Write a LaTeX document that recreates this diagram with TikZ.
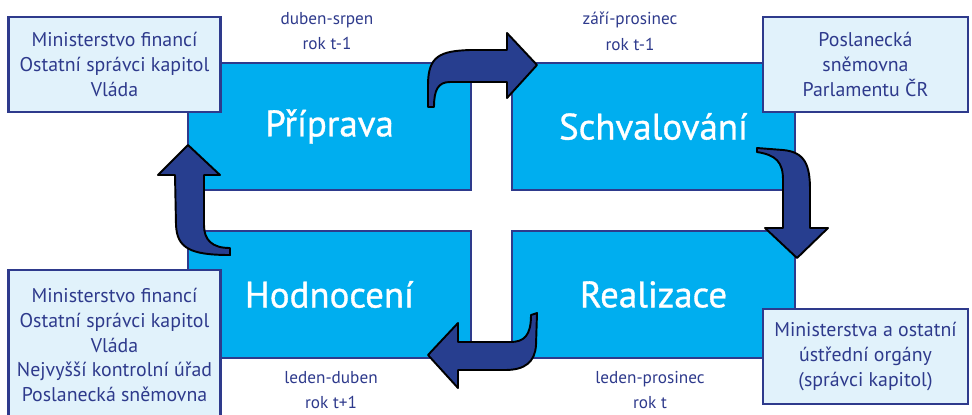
\documentclass[tikz,border=0pt]{standalone}
\usepackage{fontspec}
\setmainfont{PT Sans}
\newfontfamily\phasefont[FakeBold=0.9]{PT Sans}
\definecolor{cyanfill}{HTML}{00AEEF}
\definecolor{navy}{HTML}{2E3A8C}
\definecolor{paleblue}{HTML}{E1F2FB}
\definecolor{arrowblue}{HTML}{273E8F}
\begin{document}
\begin{tikzpicture}[x=0.02cm,y=-0.02cm,
    phase/.style={draw=navy,line width=1.1pt,fill=cyanfill,minimum width=5.66cm,minimum height=2.54cm,text=white,font=\phasefont\fontsize{21}{24}\selectfont},
    actors/.style={draw=navy,line width=1.4pt,fill=paleblue,text=navy,align=center,inner sep=0pt,font=\fontsize{11.3}{14.2}\selectfont},
    period/.style={text=navy,align=center,font=\fontsize{9.8}{14.7}\selectfont},
    turn/.style={draw=black,line width=1.1pt,fill=arrowblue,line join=round}]
    \clip (0,0) rectangle (972,414);
    \fill[white] (0,0) rectangle (972,414);

    \node[phase] (prip) at (329.5,126.5) {Příprava};
    \node[phase] (schv) at (653.5,126.5) {Schvalování};
    \node[phase] (hodn) at (329.5,294.5) {Hodnocení};
    \node[phase] (real) at (653.5,294.5) {Realizace};

    \node[actors,minimum width=4.24cm,minimum height=1.9cm] (mf) at (114.5,64.5) {Ministerstvo financí\\Ostatní správci kapitol\\Vláda};
    \node[actors,minimum width=4.1cm,minimum height=1.9cm] (ps) at (865.5,64.5) {Poslanecká\\sněmovna\\Parlamentu ČR};
    \node[actors,minimum width=4.24cm,minimum height=3cm] (kon) at (114.5,345) {Ministerstvo financí\\Ostatní správci kapitol\\Vláda\\Nejvyšší kontrolní úřad\\Poslanecká sněmovna};
    \node[actors,minimum width=4.1cm,minimum height=1.9cm] (uo) at (865.5,356.5) {Ministerstva a ostatní\\ústřední orgány\\(správci kapitol)};

    \node[period] (t1) at (327,31) {duben-srpen\\rok t-1};
    \node[period] (t2) at (630,31) {září-prosinec\\rok t-1};
    \node[period] (t3) at (331,390) {leden-duben\\rok t+1};
    \node[period] (t4) at (650,390) {leden-prosinec\\rok t};

    \draw[turn] (428,107) -- (428,85) .. controls (428,56) and (440,51) .. (470,50) -- (507,50) -- (507,33) -- (537,65) -- (507,98) -- (507,82) -- (450,82) .. controls (438,82) and (434,90) .. (434,107) -- cycle;
    \draw[turn] (757,148) -- (783,150) .. controls (805,152) and (810,165) .. (810,190) -- (810,228) -- (828,228) -- (797,258) -- (765,228) -- (783,228) -- (783,180) .. controls (783,162) and (776,155) .. (757,152) -- cycle;
    \draw[turn] (537,313) -- (536,345) .. controls (535,362) and (525,370) .. (505,370) -- (458,370) -- (458,388) -- (428,355) -- (458,323) -- (458,342) -- (510,342) .. controls (524,342) and (531,336) .. (531,315) -- cycle;
    \draw[turn] (188,145) -- (220,175) -- (204,175) -- (204,225) .. controls (204,240) and (212,248) .. (230,248) -- (230,255) .. controls (190,255) and (177,248) .. (176,225) -- (175,175) -- (158,175) -- cycle;
\end{tikzpicture}
\end{document}
